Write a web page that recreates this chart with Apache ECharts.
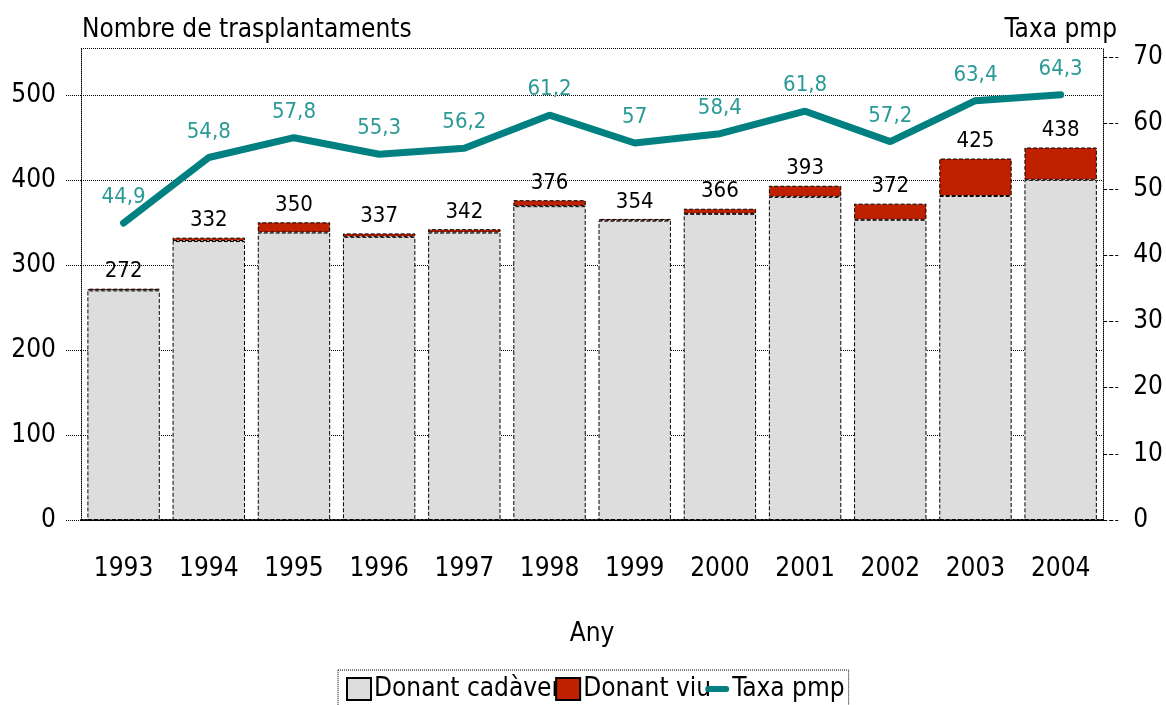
<!DOCTYPE html>
<html>
<head>
<meta charset="utf-8">
<script src="https://cdn.jsdelivr.net/npm/echarts@6/dist/echarts.min.js"></script>
<style>
  body{margin:0;background:#fff;}
  #chart{width:1166px;height:705px;}
</style>
</head>
<body>
<div id="chart"></div>
<script>
var anys = ['1993','1994','1995','1996','1997','1998','1999','2000','2001','2002','2003','2004'];
// total de trasplantaments (etiqueta damunt la barra)
var totals = [272, 332, 350, 337, 342, 376, 354, 366, 393, 372, 425, 438];
// donant viu, llegit de la imatge
var viu = [2, 4, 12, 4, 4, 7, 2, 6, 13, 19, 44, 38];
var cadaver = [270, 328, 338, 333, 338, 369, 352, 360, 380, 353, 381, 400];
var taxa = [44.9, 54.8, 57.8, 55.3, 56.2, 61.2, 57, 58.4, 61.8, 57.2, 63.4, 64.3];

var font = "'Liberation Sans Narrow', 'DejaVu Sans Condensed', sans-serif";

var dom = document.getElementById('chart');
var myChart = echarts.init(dom);

var option = {
  backgroundColor: '#fff',
  animation: false,
  textStyle: {fontFamily: font},
  title: [
    {text: 'Nombre de trasplantaments', left: 77, top: 12,
     textStyle: {fontFamily: font, fontSize: 26, fontWeight: 'normal', color: '#000'}},
    {text: 'Taxa pmp', right: 44, top: 12,
     textStyle: {fontFamily: font, fontSize: 26, fontWeight: 'normal', color: '#000'}}
  ],
  grid: {left: 81, right: 62, top: 48, bottom: 185},
  legend: {
    left: 338, top: 670,
    padding: [6, 4, 6, 8],
    itemGap: -6,
    itemWidth: 24, itemHeight: 22,
    borderColor: '#000', borderWidth: 1, borderType: 'dotted',
    textStyle: {fontFamily: font, fontSize: 26, color: '#000', padding: [0, 0, 0, -2]},
    data: [
      {name: 'Donant cadàver', icon: 'rect'},
      {name: 'Donant viu', icon: 'rect'},
      {name: 'Taxa pmp', icon: 'path://M3,0 H21 A3,3 0 0 1 21,6 H3 A3,3 0 0 1 3,0 Z'}
    ]
  },
  xAxis: [
    {
      type: 'category',
      data: anys,
      name: 'Any',
      nameLocation: 'middle',
      nameGap: 101,
      nameTextStyle: {fontFamily: font, fontSize: 26, color: '#000'},
      axisLine: {lineStyle: {color: '#000', width: 2, type: 'dotted'}},
      axisTick: {alignWithLabel: true, length: 18, lineStyle: {color: '#000', type: 'dashed'}},
      axisLabel: {fontFamily: font, fontSize: 26, color: '#000', margin: 36}
    },
    {
      type: 'category',
      data: anys,
      position: 'top',
      axisLine: {lineStyle: {color: '#000', width: 1, type: 'dotted'}},
      axisTick: {show: false},
      axisLabel: {show: false}
    }
  ],
  yAxis: [
    {
      type: 'value',
      min: 0, max: 555, interval: 100,
      axisLine: {show: true, lineStyle: {color: '#000', type: 'dotted'}},
      axisTick: {show: true, length: 15, lineStyle: {color: '#000', type: 'dotted'}},
      axisLabel: {fontFamily: font, fontSize: 26, color: '#000', margin: 25, showMaxLabel: false},
      splitLine: {show: true, lineStyle: {color: '#000', type: 'dotted'}}
    },
    {
      type: 'value',
      min: 0, max: 71.36, interval: 10,
      axisLine: {show: true, lineStyle: {color: '#000', type: 'dotted'}},
      axisTick: {show: true, length: 15, lineStyle: {color: '#000', type: 'dashed'}},
      axisLabel: {fontFamily: font, fontSize: 26, color: '#000', margin: 30, showMaxLabel: false},
      splitLine: {show: false}
    }
  ],
  series: [
    {
      name: 'Donant cadàver',
      type: 'bar',
      stack: 'tx',
      barCategoryGap: '15%',
      data: cadaver,
      itemStyle: {color: '#DDDDDD', borderColor: '#000', borderWidth: 1, borderType: 'dashed'}
    },
    {
      name: 'Donant viu',
      type: 'bar',
      stack: 'tx',
      data: viu,
      itemStyle: {color: '#BF2000', borderColor: '#000', borderWidth: 1, borderType: 'dashed'},
      label: {
        show: true,
        position: 'top',
        distance: 6,
        fontFamily: font,
        fontSize: 22,
        color: '#000',
        formatter: function (p) { return totals[p.dataIndex]; }
      }
    },
    {
      name: 'Taxa pmp',
      type: 'line',
      yAxisIndex: 1,
      data: taxa,
      symbol: 'circle',
      symbolSize: 1,
      color: '#008080',
      lineStyle: {color: '#008080', width: 7, cap: 'round'},
      label: {
        show: true,
        position: 'top',
        distance: 14,
        fontFamily: font,
        fontSize: 22,
        color: '#2A9A96',
        formatter: function (p) { return String(p.value).replace('.', ','); }
      },
      z: 5
    }
  ]
};

if (option && typeof option === "object") {
  myChart.setOption(option, true);
}
</script>
</body>
</html>
